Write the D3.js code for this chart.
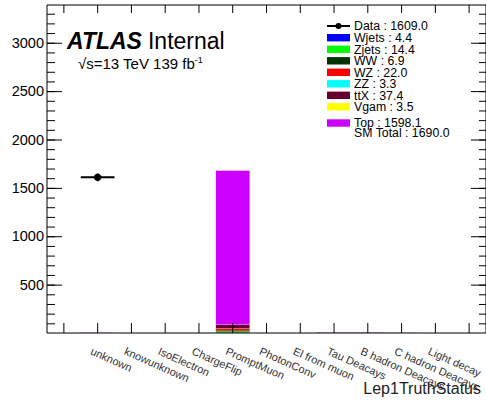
<!DOCTYPE html>
<html>
<head>
<meta charset="utf-8">
<script src="https://cdn.jsdelivr.net/npm/d3@7"></script>
<style>
  body { margin: 0; background: #fff; }
  svg { font-family: "Liberation Sans", Arial, Helvetica, sans-serif; }
  .axis path { stroke: #000; stroke-width: 1; }
  .axis line { stroke: #000; stroke-width: 1; }
</style>
</head>
<body>
<div id="chart"></div>
<script>
// bins of Lep1TruthStatus (first and last bin have no label)
const binLabels = ['', 'unknown', 'knowunknown', 'IsoElectron', 'ChargeFlip', 'PromptMuon',
  'PhotonConv', 'El from muon', 'Tau Deacays', 'B hadron Deacays', 'C hadron Deacays',
  'Light decay', ''];

// data counts per bin
const dataCounts = [0, 1609, 0, 0, 0, 0, 0, 0, 0, 0, 0, 0, 0];

// MC backgrounds per bin (stacked bottom to top in this order)
const seriesNames = ['Wjets', 'Zjets', 'WW', 'WZ', 'ZZ', 'ttX', 'Vgam', 'Top'];
const seriesColors = ['#0000ff', '#00ff00', '#003300', '#ff0000', '#00ffff', '#660033', '#ffff00', '#cc00ff'];
const wjetsVals = [0, 0, 0, 0, 0, 3.4, 0, 0, 1.0, 0, 0, 0, 0];
const zjetsVals = [0, 0, 0, 0, 0, 13.9, 0, 0, 0.5, 0, 0, 0, 0];
const wwVals    = [0, 0, 0, 0, 0, 6.6, 0, 0, 0.3, 0, 0, 0, 0];
const wzVals    = [0, 0, 0, 0, 0, 21.5, 0, 0, 0.5, 0, 0, 0, 0];
const zzVals    = [0, 0, 0, 0, 0, 3.3, 0, 0, 0, 0, 0, 0, 0];
const ttxVals   = [0, 0.5, 0, 0, 0, 35.4, 0, 0, 0, 1.0, 0.5, 0, 0];
const vgamVals  = [0, 0, 0, 0, 0, 3.0, 0, 0, 0.5, 0, 0, 0, 0];
const topVals   = [0, 1.5, 0, 0, 0, 1590.6, 0, 0, 2.0, 3.0, 1.0, 0, 0];
const seriesValues = [wjetsVals, zjetsVals, wwVals, wzVals, zzVals, ttxVals, vgamVals, topVals];

// legend entries
const legendTexts = ['Data : 1609.0', 'Wjets : 4.4', 'Zjets : 14.4', 'WW : 6.9', 'WZ : 22.0',
  'ZZ : 3.3', 'ttX : 37.4', 'Vgam : 3.5', 'Top : 1598.1'];
const smTotalText = 'SM Total : 1690.0';

const yMajorTicks = [500, 1000, 1500, 2000, 2500, 3000];

const width = 486, height = 405;
const margin = { top: 5, right: 0, bottom: 72, left: 47 };
const plotW = width - margin.left - margin.right;
const plotH = height - margin.top - margin.bottom;

const svg = d3.select('#chart').append('svg')
  .attr('width', width)
  .attr('height', height);

const g = svg.append('g')
  .attr('transform', `translate(${margin.left},${margin.top})`);

const idx = d3.range(binLabels.length);
const x = d3.scaleBand().domain(idx).range([0, plotW]).padding(0);
const y = d3.scaleLinear().domain([0, 3390]).range([plotH, 0]);

// build the table for the stack
const table = idx.map(i => {
  const row = { bin: i };
  seriesNames.forEach((s, k) => { row[s] = seriesValues[k][i]; });
  return row;
});
const stacked = d3.stack().keys(seriesNames)(table);

g.selectAll('.layer')
  .data(stacked)
  .join('g')
  .attr('class', 'layer')
  .attr('fill', (d, k) => seriesColors[k])
  .selectAll('rect')
  .data(d => d.filter(v => v[1] - v[0] > 0))
  .join('rect')
  .attr('x', d => x(d.data.bin))
  .attr('width', x.bandwidth())
  .attr('y', d => y(d[1]))
  .attr('height', d => y(d[0]) - y(d[1]));

// axes
const minorTicks = d3.range(100, 3390, 100);

g.append('g').attr('class', 'axis')
  .call(d3.axisLeft(y).tickValues(minorTicks).tickSize(-8).tickFormat(''))
  .call(a => a.select('.domain').remove());
g.append('g').attr('class', 'axis')
  .call(d3.axisLeft(y).tickValues(yMajorTicks).tickSize(-15).tickPadding(3).tickFormat(d3.format('d')))
  .call(a => a.selectAll('text').attr('font-size', 14.5).attr('fill', '#000').attr('font-family', null))
  .call(a => a.select('.domain').attr('d', `M0,0V${plotH}`));

g.append('g').attr('class', 'axis')
  .attr('transform', `translate(${plotW},0)`)
  .call(d3.axisRight(y).tickValues(minorTicks).tickSize(-7).tickFormat(''))
  .call(a => a.select('.domain').remove());
g.append('g').attr('class', 'axis')
  .attr('transform', `translate(${plotW},0)`)
  .call(d3.axisRight(y).tickValues(yMajorTicks).tickSize(-15).tickFormat(''))
  .call(a => a.select('.domain').attr('d', `M0,0V${plotH}`));

const xAxis = g.append('g').attr('class', 'axis')
  .attr('transform', `translate(0,${plotH})`)
  .call(d3.axisBottom(x).tickSize(-10).tickFormat(i => binLabels[i]))
  .call(a => a.select('.domain').attr('d', `M0,0H${plotW}`));
xAxis.selectAll('text')
  .attr('font-size', 11)
  .attr('font-family', null)
  .attr('fill', '#333')
  .attr('text-anchor', 'start')
  .attr('y', 0)
  .attr('dy', 0)
  .attr('transform', 'translate(-8,21) rotate(24)');

g.append('g').attr('class', 'axis')
  .call(d3.axisTop(x).tickSize(-8).tickFormat(''))
  .call(a => a.select('.domain').attr('d', `M0,0H${plotW}`));

// data points with error bars
const pts = idx.filter(i => dataCounts[i] > 0).map(i => ({ bin: i, v: dataCounts[i] }));
const dp = g.selectAll('.pt').data(pts).join('g').attr('class', 'pt');
dp.append('line')
  .attr('x1', d => x(d.bin)).attr('x2', d => x(d.bin) + x.bandwidth())
  .attr('y1', d => y(d.v)).attr('y2', d => y(d.v))
  .attr('stroke', '#000').attr('stroke-width', 2);
dp.append('line')
  .attr('x1', d => x(d.bin) + x.bandwidth() / 2).attr('x2', d => x(d.bin) + x.bandwidth() / 2)
  .attr('y1', d => y(d.v + Math.sqrt(d.v))).attr('y2', d => y(d.v - Math.sqrt(d.v)))
  .attr('stroke', '#000').attr('stroke-width', 2);
dp.append('circle')
  .attr('cx', d => x(d.bin) + x.bandwidth() / 2)
  .attr('cy', d => y(d.v))
  .attr('r', 3.6)
  .attr('fill', '#000');

// ATLAS label
const atlas = svg.append('text').attr('x', 67).attr('y', 49).attr('font-size', 23);
atlas.append('tspan').attr('font-weight', 'bold').attr('font-style', 'italic').text('ATLAS');
atlas.append('tspan').attr('dx', 6).text('Internal');
const lumi = svg.append('text').attr('x', 78).attr('y', 69).attr('font-size', 15);
lumi.append('tspan').text('\u221As=13 TeV 139 fb');
lumi.append('tspan').attr('font-size', 9).attr('dy', -6).text('-1');

// legend
const legX = 327, legTextX = 354;
const legY = [26, 37.7, 49.3, 60.8, 72.3, 83.8, 95.3, 106.8, 123];
const leg = svg.append('g');
legendTexts.forEach((t, k) => {
  if (k === 0) {
    leg.append('line').attr('x1', legX).attr('x2', legX + 23)
      .attr('y1', legY[k]).attr('y2', legY[k]).attr('stroke', '#000').attr('stroke-width', 2);
    leg.append('circle').attr('cx', legX + 11.5).attr('cy', legY[k]).attr('r', 3).attr('fill', '#000');
  } else {
    leg.append('rect').attr('x', legX).attr('y', legY[k] - 3.7)
      .attr('width', 23).attr('height', 7.4).attr('fill', seriesColors[k - 1]);
  }
  leg.append('text').attr('x', legTextX).attr('y', legY[k] + 4.3)
    .attr('font-size', 12.3).text(t);
});
leg.append('text').attr('x', legTextX).attr('y', 137).attr('font-size', 12.3).text(smTotalText);

// x title
svg.append('text')
  .attr('x', 481).attr('y', 394)
  .attr('text-anchor', 'end')
  .attr('font-size', 16)
  .attr('fill', '#222')
  .text('Lep1TruthStatus');
</script>
</body>
</html>
